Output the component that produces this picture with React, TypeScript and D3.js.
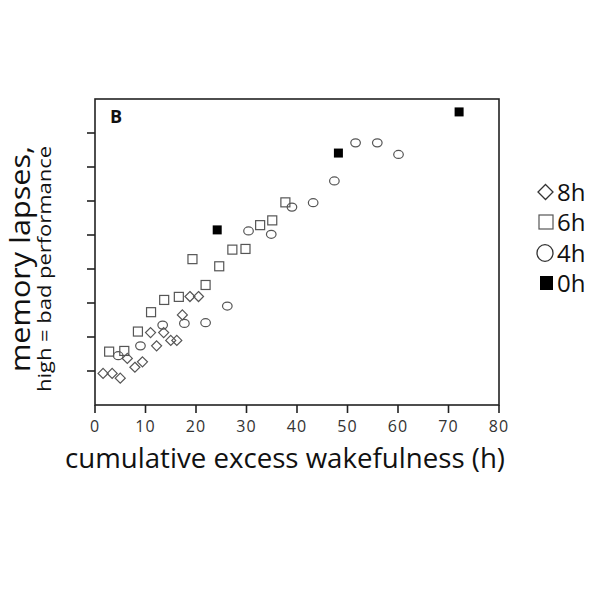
import React from "react";
import * as d3 from "d3";

const xTicks = [0, 10, 20, 30, 40, 50, 60, 70, 80];
const yTicks = [1, 2, 3, 4, 5, 6, 7, 8];

const sleep8hX = [1.6, 3.4, 5.0, 6.4, 7.9, 9.4, 11.0, 12.2, 13.6, 15.0, 16.2, 17.3, 18.8, 20.5];
const sleep8hY = [0.93, 0.93, 0.79, 1.37, 1.11, 1.27, 2.13, 1.74, 2.13, 1.9, 1.9, 2.65, 3.19, 3.19];

const sleep6hX = [2.8, 5.8, 8.5, 11.1, 13.7, 16.6, 19.3, 21.9, 24.6, 27.2, 29.8, 32.7, 35.1, 37.7];
const sleep6hY = [1.57, 1.59, 2.16, 2.73, 3.09, 3.18, 4.29, 3.53, 4.08, 4.57, 4.59, 5.29, 5.43, 5.96];

const sleep4hX = [4.6, 9.0, 13.4, 17.7, 21.9, 26.2, 30.4, 34.9, 39.0, 43.2, 47.4, 51.6, 55.9, 60.1];
const sleep4hY = [1.45, 1.74, 2.35, 2.4, 2.42, 2.91, 5.12, 5.02, 5.82, 5.95, 6.59, 7.71, 7.71, 7.37];

const sleep0hX = [24.2, 48.2, 72.1];
const sleep0hY = [5.15, 7.41, 8.62];

const legendLabels = ["8h", "6h", "4h", "0h"];

const FONT = "'Open Sans', 'Noto Sans', sans-serif";

export default function App() {
  const x = d3.scaleLinear().domain([0, 80]).range([95, 499]);
  const y = d3.scaleLinear().domain([0, 9]).range([405, 99]);
  const stroke = "#555";

  const diamond = (cx: number, cy: number, r: number) =>
    `M${cx},${cy - r}L${cx + r},${cy}L${cx},${cy + r}L${cx - r},${cy}Z`;

  const legendY = [192, 222, 253, 283];

  return (
    <svg width={600} height={600} style={{ position: "absolute", left: 0, top: 0, background: "#fff" }}>
      <rect x={0} y={0} width={600} height={600} fill="#fff" />
      {/* frame */}
      <rect x={x(0)} y={y(9)} width={x(80) - x(0)} height={y(0) - y(9)} fill="none" stroke="#222" strokeWidth={1.6} />
      {/* x ticks */}
      {xTicks.map((t) => (
        <g key={"xt" + t}>
          <line x1={x(t)} x2={x(t)} y1={y(0)} y2={y(0) + 8} stroke="#222" strokeWidth={1.6} />
          <text x={x(t)} y={432} textAnchor="middle" fontFamily={FONT} fontSize={16} letterSpacing={1} fill="#333">
            {t}
          </text>
        </g>
      ))}
      {/* y ticks */}
      {yTicks.map((t) => (
        <line key={"yt" + t} x1={x(0) - 8} x2={x(0)} y1={y(t)} y2={y(t)} stroke="#222" strokeWidth={1.6} />
      ))}
      {/* panel label */}
      <text x={110} y={123} fontFamily={FONT} fontWeight="bold" fontSize={18} fill="#111">
        B
      </text>
      {/* 8h diamonds */}
      {sleep8hX.map((v, i) => (
        <path key={"d" + i} d={diamond(x(v), y(sleep8hY[i]), 5)} fill="none" stroke={stroke} strokeWidth={1.2} />
      ))}
      {/* 6h squares */}
      {sleep6hX.map((v, i) => (
        <rect key={"s" + i} x={x(v) - 4.5} y={y(sleep6hY[i]) - 4.5} width={9} height={9} fill="none" stroke={stroke} strokeWidth={1.2} />
      ))}
      {/* 4h circles */}
      {sleep4hX.map((v, i) => (
        <ellipse key={"c" + i} cx={x(v)} cy={y(sleep4hY[i])} rx={4.8} ry={4} fill="none" stroke={stroke} strokeWidth={1.2} />
      ))}
      {/* 0h filled squares */}
      {sleep0hX.map((v, i) => (
        <rect key={"f" + i} x={x(v) - 4.5} y={y(sleep0hY[i]) - 4.5} width={9} height={9} fill="#000" />
      ))}
      {/* legend */}
      <path d={diamond(545.5, legendY[0], 7.5)} fill="none" stroke="#333" strokeWidth={1.3} />
      <rect x={539} y={legendY[1] - 7} width={14} height={14} fill="none" stroke="#555" strokeWidth={1.2} />
      <ellipse cx={545} cy={legendY[2]} rx={8} ry={8.3} fill="none" stroke="#333" strokeWidth={1.3} />
      <rect x={540} y={legendY[3] - 7} width={13} height={14} fill="#000" />
      {legendLabels.map((l, i) => (
        <text key={l} x={557} y={legendY[i] + 9} fontFamily={FONT} fontSize={24} fill="#111">
          {l}
        </text>
      ))}
      {/* axis titles */}
      <text x={65} y={468} fontFamily={FONT} fontSize={27} fill="#111" textLength={440} lengthAdjust="spacingAndGlyphs">
        cumulative excess wakefulness (h)
      </text>
      <text
        transform="translate(30,259) rotate(-90)"
        textAnchor="middle"
        fontFamily={FONT}
        fontSize={27}
        fill="#111"
        textLength={226}
        lengthAdjust="spacingAndGlyphs"
      >
        memory lapses,
      </text>
      <text
        transform="translate(51,269) rotate(-90)"
        textAnchor="middle"
        fontFamily={FONT}
        fontSize={19}
        fill="#111"
        textLength={246}
        lengthAdjust="spacingAndGlyphs"
      >
        high = bad performance
      </text>
    </svg>
  );
}
